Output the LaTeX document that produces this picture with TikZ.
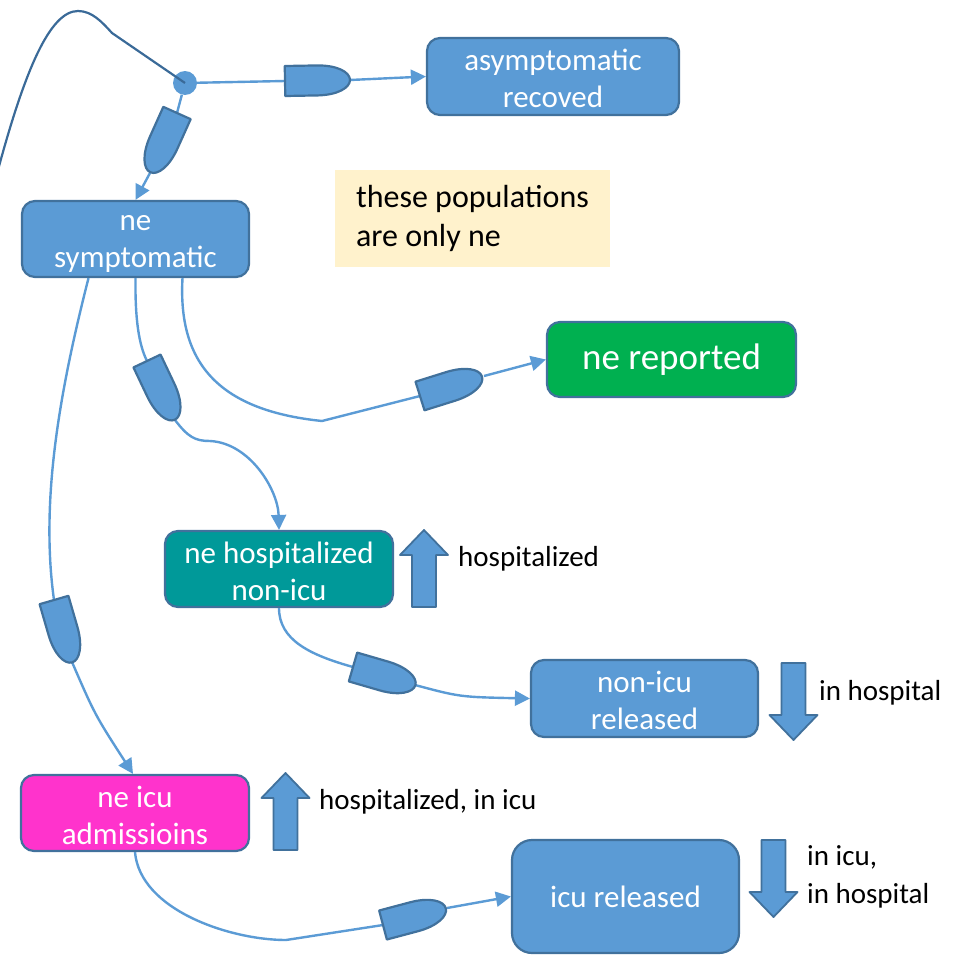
\documentclass[tikz,border=0pt]{standalone}
\usepackage{fontspec}
\setmainfont{Carlito}
\usetikzlibrary{arrows.meta,calc}
\definecolor{flowblue}{HTML}{5B9BD5}
\definecolor{edgeblue}{HTML}{41719C}
\definecolor{darkline}{HTML}{3A6A98}
\definecolor{tealfill}{HTML}{009999}
\definecolor{greenfill}{HTML}{00B050}
\definecolor{pinkfill}{HTML}{FF33CC}
\definecolor{notefill}{HTML}{FFF2CC}

\tikzset{
  stock/.style={draw=edgeblue, line width=2.2pt, rounded corners=13pt, fill=flowblue,
    text=white, align=center, font=\fontsize{31}{37}\selectfont, inner sep=0pt},
  flow/.style={draw=flowblue, line width=2.4pt},
  flowarrow/.style={flow, -{Triangle[length=15pt,width=15pt]}},
  valveshape/.style={fill=flowblue, draw=edgeblue, line width=2.2pt, line join=round},
  valve/.pic={\path[valveshape] (0,-15) -- (32,-15) .. controls (52,-15) and (65,-8) .. (65,0)
     .. controls (65,8) and (52,15) .. (32,15) -- (0,15) -- cycle;},
  blockup/.pic={\path[valveshape, line width=1.8pt] (-12,0) -- (-12,-52) -- (-24,-52) -- (0,-77)
     -- (24,-52) -- (12,-52) -- (12,0) -- cycle;},
  sidetext/.style={anchor=west, inner sep=0pt, text=black, align=left,
    font=\fontsize{29}{38}\selectfont},
}

\begin{document}
\begin{tikzpicture}[x=1pt, y=-1pt]
\useasboundingbox (0,0) rectangle (973,966);

% stocks
\node[stock, minimum width=252, minimum height=77] (asym) at (553,76.5) {\strut asymptomatic\\recoved};
\node[stock, minimum width=227, minimum height=76] (symp) at (135.5,239) {\strut ne\\symptomatic};
\node[stock, fill=greenfill, minimum width=249, minimum height=75,
      font=\fontsize{37}{42}\selectfont] (rep) at (671.5,359.5) {ne reported};
\node[stock, fill=tealfill, minimum width=228, minimum height=76] (hosp) at (279,569) {\strut ne hospitalized\\non-icu};
\node[stock, minimum width=227, minimum height=77] (nonicu) at (644.5,698.5) {\strut non-icu\\released};
\node[stock, fill=pinkfill, minimum width=228, minimum height=76] (icu) at (135,813) {\strut ne icu\\admissioins};
\node[stock, rounded corners=20pt, minimum width=227, minimum height=113] (icurel) at (625.5,896.5) {icu released};

% note
\node[fill=notefill, minimum width=275, minimum height=97, inner sep=0pt, align=left,
      font=\fontsize{32}{39}\selectfont] (note) at (472.5,218.5) {these populations\\are only ne};

% junction
\node[circle, fill=flowblue, minimum size=24, inner sep=0pt] (j) at (185,83) {};

% valve positions (back and tip)
\coordinate (v1b) at (285,81);  \coordinate (v1t) at (350,80);
\coordinate (v2b) at (177,113); \coordinate (v2t) at (150,173);
\coordinate (v3b) at (147,361); \coordinate (v3t) at (175,420);
\coordinate (v4b) at (420,396); \coordinate (v4t) at (484,376);
\coordinate (v5b) at (54,600);  \coordinate (v5t) at (72,662);
\coordinate (v6b) at (353,667); \coordinate (v6t) at (415,685);
\coordinate (v7b) at (383,925); \coordinate (v7t) at (447,908);
\coordinate (k4) at (322,421);
\coordinate (k7) at (286,940);
\coordinate (inflow) at (-2,170);
\coordinate (bend) at (112,33);

% inflow into the junction
\draw[darkline, line width=2.2pt] (inflow) .. controls (25,70) and (50,11) .. (78,11)
   .. controls (92,11) and (102,22) .. (bend) -- (j.center);

% flows
\draw[flow] (j) -- (v1b);
\draw[flowarrow] (v1t) -- (asym.west);
\draw[flow] (j) -- (v2b);
\draw[flowarrow] (v2t) -- (symp.north);

\draw[flow] (symp.south) .. controls (135,320) and (139,345) .. (v3b);
\draw[flowarrow] (v3t) .. controls (188,437) and (195,441) .. (210,441)
   .. controls (250,443) and (278,490) .. (hosp.north);

\draw[flow] ([xshift=47pt]symp.south) .. controls (178,360) and (215,410) .. (k4) -- (v4b);
\draw[flowarrow] (v4t) -- (rep.west);

\draw[flow] ([xshift=-47pt]symp.south) .. controls (60,390) and (40,500) .. (v5b);
\draw[flowarrow] (v5t) .. controls (95,715) .. ([xshift=-2pt]icu.north);

\draw[flow] (hosp.south) .. controls (279,640) and (310,655) .. (v6b);
\draw[flowarrow] (v6t) .. controls (460,697) .. (nonicu.west);

\draw[flow] (icu.south) .. controls (140,910) and (230,940) .. (k7) -- (v7b);
\draw[flowarrow] (v7t) -- (icurel.west);

% valves
\pic[rotate=1]      at (v1b) {valve};
\pic[rotate=245.8]  at (v2b) {valve};
\pic[rotate=-64.6]  at (v3b) {valve};
\pic[rotate=17.4]   at (v4b) {valve};
\pic[rotate=-73.8]  at (v5b) {valve};
\pic[rotate=-16.2]  at (v6b) {valve};
\pic[rotate=14.9]   at (v7b) {valve};

% block arrows and their labels
\pic at (424,607) {blockup};
\pic[rotate=180] at (793.5,663) {blockup};
\pic at (285.5,850) {blockup};
\pic[rotate=180] at (773.5,840) {blockup};

\node[sidetext] (l1) at (458,559) {hospitalized};
\node[sidetext] (l2) at (819,693) {in hospital};
\node[sidetext] (l3) at (319,802) {hospitalized, in icu};
\node[sidetext] (l4) at (807,877) {in icu,\\in hospital};
\end{tikzpicture}
\end{document}
